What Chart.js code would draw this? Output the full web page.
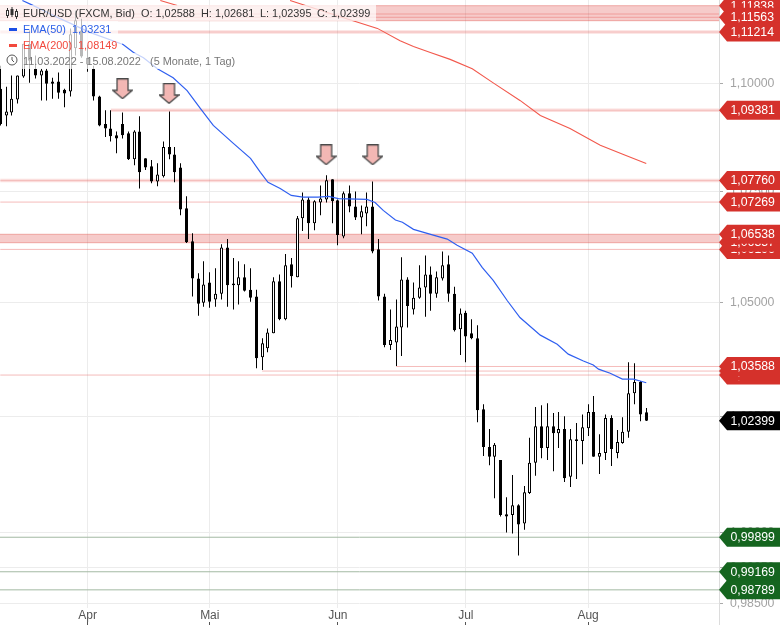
<!DOCTYPE html>
<html>
<head>
<meta charset="utf-8">
<title>EUR/USD</title>
<script src="https://cdn.jsdelivr.net/npm/chart.js@4"></script>
<style>
  body { margin: 0; background: #fff; }
  #wrap { position: relative; width: 780px; height: 625px; overflow: hidden; font: 10.9px "Liberation Sans", sans-serif; }
  canvas { position: absolute; left: 0; top: 0; }
  .row { position: absolute; left: 0; height: 16px; line-height: 16px; background: rgba(255,255,255,.72); white-space: nowrap; }
  .row span { position: absolute; top: 0; }
  .row i { position: absolute; left: 9px; top: 7px; width: 8px; height: 3px; }
  .row svg { position: absolute; left: 6px; top: 2px; }
</style>
</head>
<body>
<div id="wrap">
  <canvas id="chart" width="780" height="625"></canvas>
  <div class="row" style="top:5px;width:376px;color:#333">
    <svg width="12" height="12" viewBox="0 0 12 12" fill="none" stroke="#333">
      <path d="M1.5 1v10M6 0v10M10.5 2v10"/><rect x=".5" y="3.5" width="2" height="5" fill="#fff"/><rect x="5" y="2.5" width="2" height="5" fill="#333"/><rect x="9.5" y="4.5" width="2" height="5" fill="#fff"/>
    </svg>
    <span style="left:23px">EUR/USD (FXCM, Bid)</span>
    <span style="left:141px">O: 1,02588</span>
    <span style="left:201px">H: 1,02681</span>
    <span style="left:260px">L: 1,02395</span>
    <span style="left:317px">C: 1,02399</span>
  </div>
  <div class="row" style="top:21px;width:118px;color:#2a5fe8">
    <i style="background:#1a4fe6"></i><span style="left:23px">EMA(50)</span><span style="left:72px">1,03231</span>
  </div>
  <div class="row" style="top:37px;width:122px;color:#f2493d">
    <i style="background:#f2493d"></i><span style="left:23px">EMA(200)</span><span style="left:78px">1,08149</span>
  </div>
  <div class="row" style="top:53px;width:240px;color:#777">
    <svg width="12" height="12" viewBox="0 0 12 12" fill="none" stroke="#555" style="left:6px;top:1px">
      <circle cx="6" cy="6" r="5"/><path d="M6 3v3l2 2"/>
    </svg>
    <span style="left:23px">11.03.2022 - 15.08.2022</span>
    <span style="left:150px">(5 Monate, 1 Tag)</span>
  </div>
</div>
<script>
'use strict';

// daily candles, 11.03.2022 - 15.08.2022 (index = weekday count)
const opens = [
  1.0988,1.0926,1.0933,1.0963,1.1017,1.1094,1.1035,1.1019,1.1031,1.1005,
  1.1005,1.0986,1.0982,1.1083,1.1125,1.1061,1.1035,1.0970,1.0906,1.0896,
  1.0880,1.0906,1.0885,1.0825,1.0889,1.0827,1.0809,1.0774,1.0786,1.0853,
  1.0836,1.0806,1.0713,1.0638,1.0554,1.0500,1.0545,1.0507,1.0520,1.0624,
  1.0539,1.0539,1.0557,1.0529,1.0514,1.0379,1.0399,1.0432,1.0548,1.0463,
  1.0586,1.0557,1.0690,1.0733,1.0679,1.0726,1.0733,1.0779,1.0731,1.0649,
  1.0747,1.0717,1.0692,1.0701,1.0717,1.0620,1.0514,1.0406,1.0412,1.0445,
  1.0552,1.0485,1.0511,1.0534,1.0563,1.0520,1.0554,1.0586,1.0520,1.0441,
  1.0478,1.0432,1.0421,1.0265,1.0183,1.0162,1.0155,1.0039,1.0037,1.0058,
  1.0019,1.0084,1.0149,1.0228,1.0181,1.0228,1.0213,1.0222,1.0119,1.0200,
  1.0196,1.0224,1.0259,1.0162,1.0170,1.0246,1.0170,1.0192,1.0216,1.0300,
  1.0325,1.02588
];
const highs = [
  1.1042,1.0993,1.1019,1.1019,1.1094,1.1125,1.1066,1.1035,1.1035,1.1014,
  1.1026,1.0988,1.1130,1.1172,1.1153,1.1090,1.1042,1.0972,1.0938,1.0938,
  1.0889,1.0933,1.0889,1.0892,1.0924,1.0827,1.0823,1.0816,1.0866,1.0935,
  1.0853,1.0816,1.0740,1.0656,1.0566,1.0593,1.0568,1.0577,1.0631,1.0643,
  1.0600,1.0593,1.0586,1.0577,1.0529,1.0421,1.0443,1.0557,1.0563,1.0609,
  1.0600,1.0695,1.0749,1.0738,1.0731,1.0765,1.0788,1.0779,1.0733,1.0751,
  1.0765,1.0751,1.0719,1.0749,1.0774,1.0643,1.0520,1.0485,1.0507,1.0602,
  1.0557,1.0545,1.0584,1.0606,1.0581,1.0570,1.0615,1.0606,1.0536,1.0487,
  1.0482,1.0463,1.0450,1.0276,1.0222,1.0192,1.0155,1.0075,1.0123,1.0060,
  1.0099,1.0203,1.0270,1.0274,1.0278,1.0257,1.0259,1.0250,1.0222,1.0235,
  1.0254,1.0276,1.0294,1.0211,1.0254,1.0252,1.0220,1.0248,1.0368,1.0366,
  1.0327,1.02681
];
const lows = [
  1.0903,1.0901,1.0926,1.0954,1.1014,1.1002,1.1012,1.0961,1.0961,1.0965,
  1.0965,1.0945,1.0970,1.1066,1.1061,1.1028,1.0961,1.0901,1.0876,1.0866,
  1.0839,1.0873,1.0823,1.0811,1.0758,1.0800,1.0770,1.0763,1.0783,1.0825,
  1.0772,1.0697,1.0634,1.0514,1.0471,1.0491,1.0489,1.0491,1.0507,1.0491,
  1.0485,1.0496,1.0525,1.0502,1.0355,1.0351,1.0390,1.0432,1.0461,1.0461,
  1.0534,1.0557,1.0661,1.0643,1.0663,1.0697,1.0726,1.0679,1.0629,1.0645,
  1.0704,1.0686,1.0654,1.0672,1.0611,1.0505,1.0401,1.0395,1.0360,1.0382,
  1.0445,1.0474,1.0509,1.0469,1.0482,1.0511,1.0550,1.0502,1.0436,1.0384,
  1.0368,1.0419,1.0237,1.0164,1.0144,1.0073,1.0034,1.0000,0.9998,0.9951,
  1.0006,1.0082,1.0121,1.0159,1.0155,1.0131,1.0181,1.0108,1.0097,1.0114,
  1.0146,1.0207,1.0162,1.0125,1.0155,1.0142,1.0159,1.0190,1.0203,1.0276,
  1.0239,1.02395
];
const closes = [
  1.0906,1.0935,1.0965,1.1019,1.1094,1.1054,1.1019,1.1031,1.1000,1.1000,
  1.0979,1.0977,1.1116,1.1149,1.1064,1.1045,1.0970,1.0903,1.0896,1.0878,
  1.0873,1.0880,1.0825,1.0889,1.0795,1.0806,1.0774,1.0790,1.0853,1.0836,
  1.0795,1.0710,1.0636,1.0554,1.0498,1.0541,1.0502,1.0520,1.0624,1.0539,
  1.0543,1.0557,1.0527,1.0511,1.0377,1.0410,1.0434,1.0548,1.0463,1.0584,
  1.0559,1.0690,1.0733,1.0679,1.0729,1.0735,1.0777,1.0729,1.0652,1.0747,
  1.0717,1.0692,1.0706,1.0717,1.0615,1.0514,1.0406,1.0417,1.0447,1.0552,
  1.0493,1.0511,1.0534,1.0563,1.0520,1.0557,1.0584,1.0520,1.0439,1.0476,
  1.0425,1.0421,1.0263,1.0183,1.0162,1.0188,1.0037,1.0034,1.0058,1.0017,
  1.0086,1.0149,1.0228,1.0181,1.0228,1.0213,1.0222,1.0116,1.0200,1.0196,
  1.0226,1.0259,1.0162,1.0170,1.0246,1.0179,1.0194,1.0216,1.0300,1.0325,
  1.0254,1.02399
];

// moving averages, sampled where the curve bends
const ema50Idx = [3.8,5.7,10.3,15.5,21.1,22.9,24.6,27,29.7,32.1,34.4,36.6,40,43,44.7,46,48.1,50,52,54.6,56.4,58.1,63,64.4,65.8,67.9,69.1,71,74.4,76.8,78.5,81.1,82.8,84.7,87.1,89.3,92.8,95.7,97.6,100.2,101.9,102.8,104.8,106.9,108.8,111];
const ema50Val = [1.1196,1.1184,1.1153,1.1120,1.1092,1.1073,1.1061,1.1035,1.1014,1.0984,1.0942,1.0903,1.0862,1.0827,1.0795,1.0772,1.0758,1.0742,1.0738,1.0738,1.0740,1.0735,1.0733,1.0726,1.0708,1.0686,1.0681,1.0665,1.0652,1.0643,1.0629,1.0611,1.0579,1.0550,1.0505,1.0467,1.0428,1.0408,1.0386,1.0371,1.0362,1.0353,1.0344,1.0331,1.0331,1.03231];
const ema200Idx = [27.5,30.4,40,49.8,57.9,64.8,68.7,71,73.9,77.3,81.1,84.7,89.3,92.8,97.9,103.1,107.4,111];
const ema200Val = [1.1196,1.1184,null,1.1196,1.1160,1.1130,1.1101,1.1087,1.1073,1.1057,1.1035,1.1002,1.0961,1.0926,1.0896,1.0857,1.0834,1.08149];

// resistance / support levels
const strongLevels = [1.11214, 1.09381, 1.07760];
const strongFrom = [0, 19, 0];
const thinLevels = [1.11640, 1.11563, 1.07269, 1.06196, 1.03400, 1.03488, 1.03588];
const thinFrom = [0, 0, 0, 0, 0, 45, 68];
const supportLevels = [0.99899, 0.99169, 0.98789];
const zoneTops = [1.11838, 1.06538];
const zoneBottoms = [1.11482, 1.06347];

// price tags on the right axis, in drawing order
const redTags = [1.11838, 1.11563, 1.11214, 1.09381, 1.07760, 1.07269, 1.06196, 1.06357, 1.06538, 1.03400, 1.03488, 1.03588];
const greenTags = [0.99899, 0.99169, 0.98789];
const lastTag = 1.02399;

// arrows above the swing highs
const arrowIdx = [21, 29, 56, 64];
const arrowVal = [1.0988, 1.0977, 1.0835, 1.0835];

const monthTicks = [15, 36, 58, 80, 101];
const monthLabels = ['Apr', 'Mai', 'Jun', 'Jul', 'Aug'];
const priceTicks = [1.1, 1.075, 1.05, 1.025, 1, 0.9925, 0.985];

const X_MIN = -0.05, X_MAX = 123.5;
const Y_MIN = 0.98409, Y_MAX = 1.11973;

const FONT = '"Liberation Sans", sans-serif';
const indexes = opens.map((o, i) => i);

function fmt(v) {
  return v.toFixed(5).replace('.', ',');
}

function levelLine(value, from, color, width) {
  return {
    type: 'line', order: 6, borderColor: color, borderWidth: width, pointRadius: 0,
    data: [{ x: from, y: value }, { x: X_MAX, y: value }]
  };
}

function makeArrow() {
  let c = document.createElement('canvas');
  c.width = 21;
  c.height = 21;
  let g = c.getContext('2d');
  g.beginPath();
  g.moveTo(5, 0.7);
  g.lineTo(16, 0.7);
  g.lineTo(16, 12);
  g.lineTo(20.3, 12);
  g.lineTo(10.5, 20.3);
  g.lineTo(0.7, 12);
  g.lineTo(5, 12);
  g.closePath();
  g.fillStyle = '#f3b7b4';
  g.fill();
  g.lineWidth = 1.3;
  g.strokeStyle = '#4a4a4a';
  g.stroke();
  return c;
}

let datasets = [];

zoneTops.forEach((top, i) => {
  datasets.push({
    type: 'line', order: 7, borderColor: 'rgba(225,80,75,.42)', borderWidth: 1, pointRadius: 0,
    backgroundColor: 'rgba(222,70,65,.28)', fill: { value: zoneBottoms[i] },
    data: [{ x: X_MIN, y: top }, { x: X_MAX, y: top }]
  });
  datasets.push(levelLine(zoneBottoms[i], X_MIN, 'rgba(225,80,75,.42)', 1));
});
strongLevels.forEach((v, i) => {
  datasets.push(levelLine(v, strongFrom[i], 'rgba(235,110,105,.22)', 3.5));
  datasets.push(levelLine(v, strongFrom[i], 'rgba(225,80,75,.25)', 1));
});
thinLevels.forEach((v, i) => datasets.push(levelLine(v, thinFrom[i], 'rgba(228,80,75,.38)', 1)));
supportLevels.forEach(v => datasets.push(levelLine(v, X_MIN, '#a3b9a3', 1)));

// wicks and bodies are floating bars
datasets.push({
  type: 'bar', order: 3, grouped: false, barThickness: 1, backgroundColor: '#000', borderWidth: 0, inflateAmount: 0,
  data: indexes.map(i => ({ x: i, y: [lows[i], highs[i]] }))
});
datasets.push({
  type: 'bar', order: 2, grouped: false, barThickness: 3, borderColor: '#000', borderWidth: 1,
  borderSkipped: false, inflateAmount: 0,
  backgroundColor: indexes.map(i => closes[i] > opens[i] ? '#fff' : '#000'),
  data: indexes.map(i => ({ x: i, y: [opens[i], closes[i]] }))
});

datasets.push({
  type: 'line', order: 1, borderColor: '#f2584c', borderWidth: 1.1, pointRadius: 0, spanGaps: false,
  data: ema200Idx.map((x, i) => ({ x: x, y: ema200Val[i] }))
});
datasets.push({
  type: 'line', order: 1, borderColor: '#2f5ff0', borderWidth: 1.2, pointRadius: 0,
  data: ema50Idx.map((x, i) => ({ x: x, y: ema50Val[i] }))
});
datasets.push({
  type: 'line', order: 0, showLine: false, pointStyle: makeArrow(),
  data: arrowIdx.map((x, i) => ({ x: x, y: arrowVal[i] }))
});

function setMonthTicks(scale) {
  scale.ticks = monthTicks.map(v => ({ value: v }));
}

// no overhang for the first and last tick label, the plot starts at the canvas edge
function noPadding(scale) {
  scale.paddingTop = 0;
  scale.paddingBottom = 0;
  scale.paddingLeft = 0;
  scale.paddingRight = 0;
}

// line the candles up on whole pixels, like the reference
const snapBars = {
  id: 'snapBars',
  afterDatasetsUpdate(chart) {
    chart.getSortedVisibleDatasetMetas().forEach(meta => {
      if (meta.type !== 'bar') return;
      meta.data.forEach(el => { el.x = Math.floor(el.x) + 0.5; });
    });
  }
};

function drawTag(ctx, y, value, color) {
  let x = 719;
  ctx.beginPath();
  ctx.moveTo(x, y);
  ctx.lineTo(x + 8, y - 9.5);
  ctx.lineTo(780, y - 9.5);
  ctx.lineTo(780, y + 9.5);
  ctx.lineTo(x + 8, y + 9.5);
  ctx.closePath();
  ctx.fillStyle = color;
  ctx.fill();
  ctx.fillStyle = '#fff';
  ctx.textAlign = 'left';
  ctx.textBaseline = 'middle';
  ctx.font = '12.3px ' + FONT;
  ctx.fillText(fmt(value), x + 11.5, y + 0.5);
}

const priceTags = {
  id: 'priceTags',
  afterDraw(chart) {
    let ctx = chart.ctx;
    let y = chart.scales.y;
    ctx.save();
    ctx.fillStyle = '#dcdcdc';
    ctx.fillRect(719, 0, 1, chart.height);
    redTags.forEach(v => drawTag(ctx, y.getPixelForValue(v), v, '#d5312b'));
    greenTags.forEach(v => drawTag(ctx, y.getPixelForValue(v), v, '#15651f'));
    drawTag(ctx, y.getPixelForValue(lastTag), lastTag, '#000');
    ctx.restore();
  }
};

new Chart(document.getElementById('chart'), {
  type: 'bar',
  data: { datasets: datasets },
  plugins: [snapBars, priceTags],
  options: {
    responsive: false,
    animation: false,
    devicePixelRatio: 1,
    layout: { padding: 0, autoPadding: false },
    plugins: { legend: { display: false }, tooltip: { enabled: false } },
    scales: {
      x: {
        type: 'linear', position: 'bottom', weight: 0, min: X_MIN, max: X_MAX, offset: false,
        afterBuildTicks: setMonthTicks,
        afterFit(scale) { scale.height = 14; noPadding(scale); },
        border: { display: false },
        grid: { color: '#ececec', drawTicks: false, offset: false },
        ticks: {
          autoSkip: false, maxRotation: 0, padding: 0, color: '#555',
          font: { family: FONT, size: 12 },
          callback: v => monthLabels[monthTicks.indexOf(v)]
        }
      },
      x2: {
        type: 'linear', axis: 'x', position: 'bottom', weight: 1, min: X_MIN, max: X_MAX, offset: false,
        afterBuildTicks: setMonthTicks,
        afterFit(scale) { scale.height = 3; noPadding(scale); },
        border: { display: false },
        grid: { drawOnChartArea: false, tickLength: 3, tickColor: '#555', offset: false },
        ticks: { display: false }
      },
      y: {
        type: 'logarithmic', position: 'right', bounds: 'data', min: Y_MIN, max: Y_MAX,
        afterBuildTicks(scale) { scale.ticks = priceTicks.map(v => ({ value: v })); },
        afterFit(scale) { scale.width = 61; noPadding(scale); },
        border: { display: false },
        grid: { color: '#ececec', tickLength: 4, tickColor: '#aaa' },
        ticks: {
          padding: 7, color: '#a3a3a3', autoSkip: false,
          font: { family: FONT, size: 12.3 },
          callback: v => fmt(v)
        }
      }
    }
  }
});
</script>
</body>
</html>
